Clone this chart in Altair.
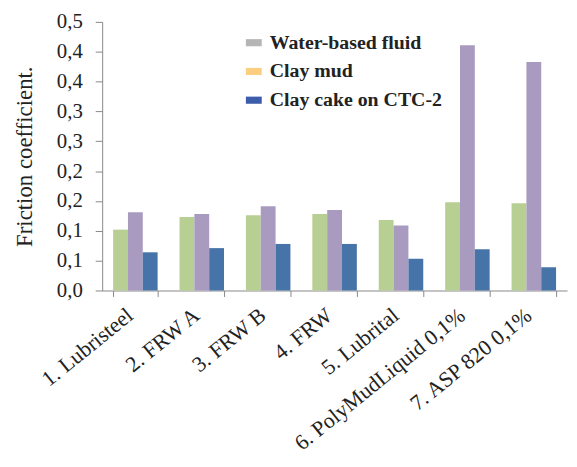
import altair as alt
import pandas as pd

categories = ["1. Lubristeel", "2. FRW A", "3. FRW B", "4. FRW", "5. Lubrital",
              "6. PolyMudLiquid 0,1%", "7. ASP 820 0,1%"]
series = ["Water-based fluid", "Clay mud", "Clay cake on CTC-2"]
water_based = [0.102, 0.123, 0.126, 0.128, 0.118, 0.148, 0.146]
clay_mud = [0.131, 0.128, 0.141, 0.135, 0.109, 0.411, 0.383]
clay_cake = [0.064, 0.071, 0.078, 0.078, 0.053, 0.069, 0.039]
y_ticks = [0.0, 0.05, 0.10, 0.15, 0.20, 0.25, 0.30, 0.35, 0.40, 0.45]

bar_colors = ["#b8cf94", "#a99bbf", "#4674a8"]
legend_colors = ["#b5b5b5", "#fccf80", "#3c5dab"]

rows = []
for i, c in enumerate(categories):
    for s, vals in zip(series, [water_based, clay_mud, clay_cake]):
        rows.append({"category": c, "series": s, "value": vals[i]})
df = pd.DataFrame(rows)

FONT = "Liberation Serif"

x_enc = alt.X("category:N", sort=categories, title=None,
              scale=alt.Scale(paddingInner=0.33, paddingOuter=0.165),
              axis=alt.Axis(labelAngle=-39, labelAlign="right", labelBaseline="top",
                            labelFont=FONT, labelFontSize=22, labelColor="#222",
                            tickBand="extent", tickSize=6, tickColor="#888",
                            domainColor="#888", labelPadding=8, labelOffset=-12,
                            labelLimit=400))
y_enc = alt.Y("value:Q", title="Friction coefficient.",
              scale=alt.Scale(domain=[0, 0.45], nice=False),
              axis=alt.Axis(values=y_ticks, grid=False, tickSize=7, tickColor="#888",
                            domainColor="#888", labelFont=FONT, labelFontSize=21,
                            labelColor="#222", labelPadding=13,
                            titleFont=FONT, titleFontSize=23,
                            titleFontWeight="normal", titleColor="#222", titlePadding=20,
                            labelExpr="replace(format(round(datum.value*10 + 0.000001)/10, '.1f'), '.', ',')"))

bars = alt.Chart(df).mark_bar().encode(
    x=x_enc,
    y=y_enc,
    xOffset=alt.XOffset("series:N", sort=series),
    color=alt.Color("series:N", sort=series,
                    scale=alt.Scale(domain=series, range=bar_colors), legend=None),
)

legend_layer = alt.Chart(df).mark_square(size=110).encode(
    x=x_enc,
    y=y_enc,
    fill=alt.Fill("series:N", sort=series,
                  scale=alt.Scale(domain=series, range=legend_colors),
                  legend=alt.Legend(title=None, orient="none", legendX=143, legendY=11,
                                    labelFont=FONT, labelFontSize=20, labelFontWeight="bold",
                                    labelColor="#222", labelLimit=400,
                                    symbolType="M-1,-0.45H1V0.45H-1Z", symbolSize=256,
                                    symbolStrokeWidth=0, rowPadding=9, labelOffset=6,
                                    symbolOpacity=1)),
).transform_filter("false")

chart = alt.layer(legend_layer, bars).properties(
    width=469, height=271,
    background="white",
    autosize=alt.AutoSizeParams(type="none"),
    padding={"left": 95, "top": 12, "right": 2, "bottom": 170},
).configure_view(stroke=None).configure_legend(
    labelFont=FONT, labelFontSize=20, labelFontWeight="bold", labelColor="#222"
)

chart.save("out.html", embed_options={"renderer": "svg", "actions": False})
